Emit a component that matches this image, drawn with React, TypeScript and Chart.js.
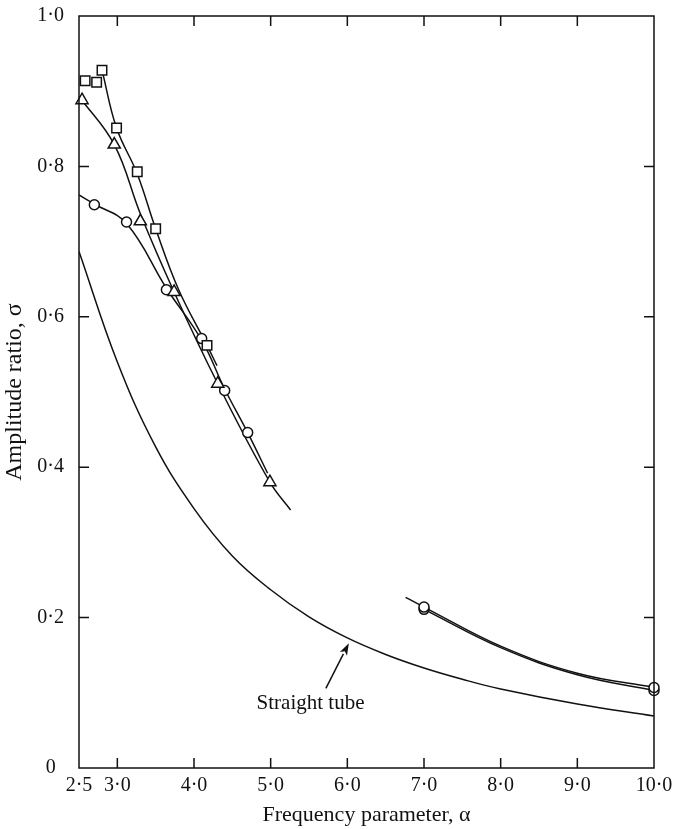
import { useEffect, useRef } from "react";
import { Chart, registerables } from "chart.js";

Chart.register(...registerables);

// Tick values
const xTickValues = [2.5, 3, 4, 5, 6, 7, 8, 9, 10];
const yTickValues = [0, 0.2, 0.4, 0.6, 0.8, 1.0];

// Measured points (alpha, sigma)
const squarePoints = [[2.58, 0.914], [2.73, 0.912], [2.80, 0.928], [2.99, 0.851], [3.26, 0.793], [3.50, 0.717], [4.17, 0.562]];
const trianglePoints = [[2.54, 0.888], [2.96, 0.829], [3.30, 0.727], [3.74, 0.633], [4.31, 0.511], [4.99, 0.380]];
const circlePoints = [[2.70, 0.749], [3.12, 0.726], [3.64, 0.636], [4.10, 0.571], [4.40, 0.502], [4.70, 0.446]];
const highCirclePointsA = [[7.0, 0.214], [10.0, 0.107]];
const highCirclePointsB = [[7.0, 0.211], [10.0, 0.103]];

// Fitted curves
const squareCurve = [[2.80, 0.928], [2.99, 0.851], [3.26, 0.790], [3.50, 0.717], [3.80, 0.636], [4.17, 0.562], [4.30, 0.535]];
const triangleCurve = [[2.5, 0.893], [2.96, 0.829], [3.30, 0.737], [3.74, 0.633], [4.31, 0.511], [4.99, 0.380], [5.26, 0.343]];
const circleCurve = [[2.5, 0.762], [2.70, 0.750], [3.12, 0.724], [3.64, 0.638], [4.10, 0.569], [4.40, 0.504], [4.70, 0.446], [4.96, 0.392]];
const highCurveA = [[6.76, 0.227], [7.0, 0.214], [8.0, 0.162], [9.0, 0.126], [10.0, 0.107]];
const highCurveB = [[7.0, 0.211], [8.0, 0.160], [9.0, 0.124], [10.0, 0.103]];
const straightTube = [[2.5, 0.687], [3.0, 0.540], [3.5, 0.427], [4.0, 0.345], [4.5, 0.282], [5.0, 0.237], [5.5, 0.201], [6.0, 0.173], [6.5, 0.151], [7.0, 0.133], [7.5, 0.118], [8.0, 0.105], [9.0, 0.085], [10.0, 0.069]];

// Annotation
const annotationText = "Straight tube";
const arrowTip = [6.02, 0.166];
const arrowTail = [5.72, 0.106];
const annotationPos = [5.52, 0.086];

const FONT = "'Liberation Serif', 'Times New Roman', serif";

const toXY = (arr: number[][]) => arr.map(([x, y]) => ({ x, y }));
const fmt = (v: number) => (v === 0 ? "0" : v.toFixed(1).replace(".", "\u00b7"));

const lineDs = (data: number[][]) => ({
  data: toXY(data),
  showLine: true,
  borderColor: "#111",
  borderWidth: 1.5,
  pointRadius: 0,
  pointHoverRadius: 0,
  tension: 0.4,
  fill: false,
  order: 2,
});

const markerDs = (data: number[][], style: string, radius: number) => ({
  data: toXY(data),
  showLine: false,
  pointStyle: style,
  pointRadius: radius,
  pointBorderWidth: 1.5,
  pointBorderColor: "#111",
  pointBackgroundColor: "#fff",
  order: 1,
  clip: false as const,
});

const framePlugin = {
  id: "frame",
  afterDatasetsDraw(chart: any) {
    const { ctx, chartArea: a, scales } = chart;
    const xs = scales.x;
    const ys = scales.y;
    ctx.save();
    ctx.strokeStyle = "#111";
    ctx.lineWidth = 1.5;
    ctx.strokeRect(a.left, a.top, a.right - a.left, a.bottom - a.top);
    const tl = 10;
    ctx.beginPath();
    xTickValues.forEach((v) => {
      if (v <= xs.min || v >= xs.max) return;
      const px = xs.getPixelForValue(v);
      ctx.moveTo(px, a.bottom);
      ctx.lineTo(px, a.bottom - tl);
      ctx.moveTo(px, a.top);
      ctx.lineTo(px, a.top + tl);
    });
    yTickValues.forEach((v) => {
      if (v <= ys.min || v >= ys.max) return;
      const py = ys.getPixelForValue(v);
      ctx.moveTo(a.left, py);
      ctx.lineTo(a.left + tl, py);
      ctx.moveTo(a.right, py);
      ctx.lineTo(a.right - tl, py);
    });
    ctx.stroke();
    ctx.restore();
  },
  afterDraw(chart: any) {
    const { ctx, scales } = chart;
    const xs = scales.x;
    const ys = scales.y;
    const tx = xs.getPixelForValue(arrowTip[0]);
    const ty = ys.getPixelForValue(arrowTip[1]);
    const sx = xs.getPixelForValue(arrowTail[0]);
    const sy = ys.getPixelForValue(arrowTail[1]);
    ctx.save();
    ctx.strokeStyle = "#111";
    ctx.fillStyle = "#111";
    ctx.lineWidth = 1.5;
    const ang = Math.atan2(ty - sy, tx - sx);
    const headLen = 12;
    const bx = tx - Math.cos(ang) * headLen;
    const by = ty - Math.sin(ang) * headLen;
    ctx.beginPath();
    ctx.moveTo(sx, sy);
    ctx.lineTo(bx, by);
    ctx.stroke();
    ctx.beginPath();
    ctx.moveTo(tx, ty);
    ctx.lineTo(bx + Math.cos(ang + Math.PI / 2) * 4, by + Math.sin(ang + Math.PI / 2) * 4);
    ctx.lineTo(bx + Math.cos(ang) * 3, by + Math.sin(ang) * 3);
    ctx.lineTo(bx + Math.cos(ang - Math.PI / 2) * 4, by + Math.sin(ang - Math.PI / 2) * 4);
    ctx.closePath();
    ctx.fill();
    ctx.font = `21px ${FONT}`;
    ctx.textAlign = "center";
    ctx.textBaseline = "middle";
    ctx.fillText(annotationText, xs.getPixelForValue(annotationPos[0]), ys.getPixelForValue(annotationPos[1]));
    ctx.restore();
  },
};

export default function App() {
  const ref = useRef<HTMLCanvasElement | null>(null);
  useEffect(() => {
    if (!ref.current) return;
    const chart = new Chart(ref.current, {
      type: "scatter",
      data: {
        datasets: [
          markerDs(squarePoints, "rect", 6.7),
          markerDs(trianglePoints, "triangle", 7),
          markerDs(circlePoints, "circle", 5),
          markerDs(highCirclePointsA, "circle", 5),
          markerDs(highCirclePointsB, "circle", 5),
          lineDs(squareCurve),
          lineDs(triangleCurve),
          lineDs(circleCurve),
          lineDs(highCurveA),
          lineDs(highCurveB),
          lineDs(straightTube),
        ] as any,
      },
      options: {
        animation: false,
        responsive: false,
        events: [],
        layout: { padding: { left: 0, right: 21, top: 16, bottom: 0 } },
        plugins: {
          legend: { display: false },
          tooltip: { enabled: false },
        },
        scales: {
          x: {
            type: "linear",
            min: 2.5,
            max: 10,
            afterBuildTicks: (s: any) => {
              s.ticks = xTickValues.map((v) => ({ value: v }));
            },
            afterFit: (s: any) => {
              s.height = 61;
              s.paddingLeft = 0;
              s.paddingRight = 0;
              s.paddingTop = 0;
              s.paddingBottom = 0;
            },
            grid: { display: false, drawTicks: false },
            border: { display: false },
            ticks: {
              callback: (v: any) => fmt(Number(v)),
              autoSkip: false,
              maxRotation: 0,
              padding: 6,
              color: "#111",
              font: { family: FONT, size: 20 },
            },
            title: {
              display: true,
              text: "Frequency parameter, \u03b1",
              color: "#111",
              font: { family: FONT, size: 22 },
              padding: { top: 0, bottom: 1 },
            },
          },
          y: {
            type: "linear",
            min: 0,
            max: 1,
            afterBuildTicks: (s: any) => {
              s.ticks = yTickValues.map((v) => ({ value: v }));
            },
            afterFit: (s: any) => {
              s.width = 79;
              s.paddingLeft = 0;
              s.paddingRight = 0;
              s.paddingTop = 0;
              s.paddingBottom = 0;
            },
            grid: { display: false, drawTicks: false },
            border: { display: false },
            ticks: {
              callback: (v: any) => fmt(Number(v)),
              padding: 15,
              crossAlign: "center",
              color: "#111",
              font: { family: FONT, size: 20 },
            },
            title: {
              display: true,
              text: "Amplitude ratio, \u03c3",
              color: "#111",
              font: { family: FONT, size: 24 },
              padding: { top: 0, bottom: 3 },
            },
          },
        },
      },
      plugins: [framePlugin],
    });
    return () => chart.destroy();
  }, []);
  return (
    <div style={{ position: "fixed", left: 0, top: 0, width: 675, height: 829, background: "#fff" }}>
      <canvas ref={ref} width={675} height={829} />
    </div>
  );
}
